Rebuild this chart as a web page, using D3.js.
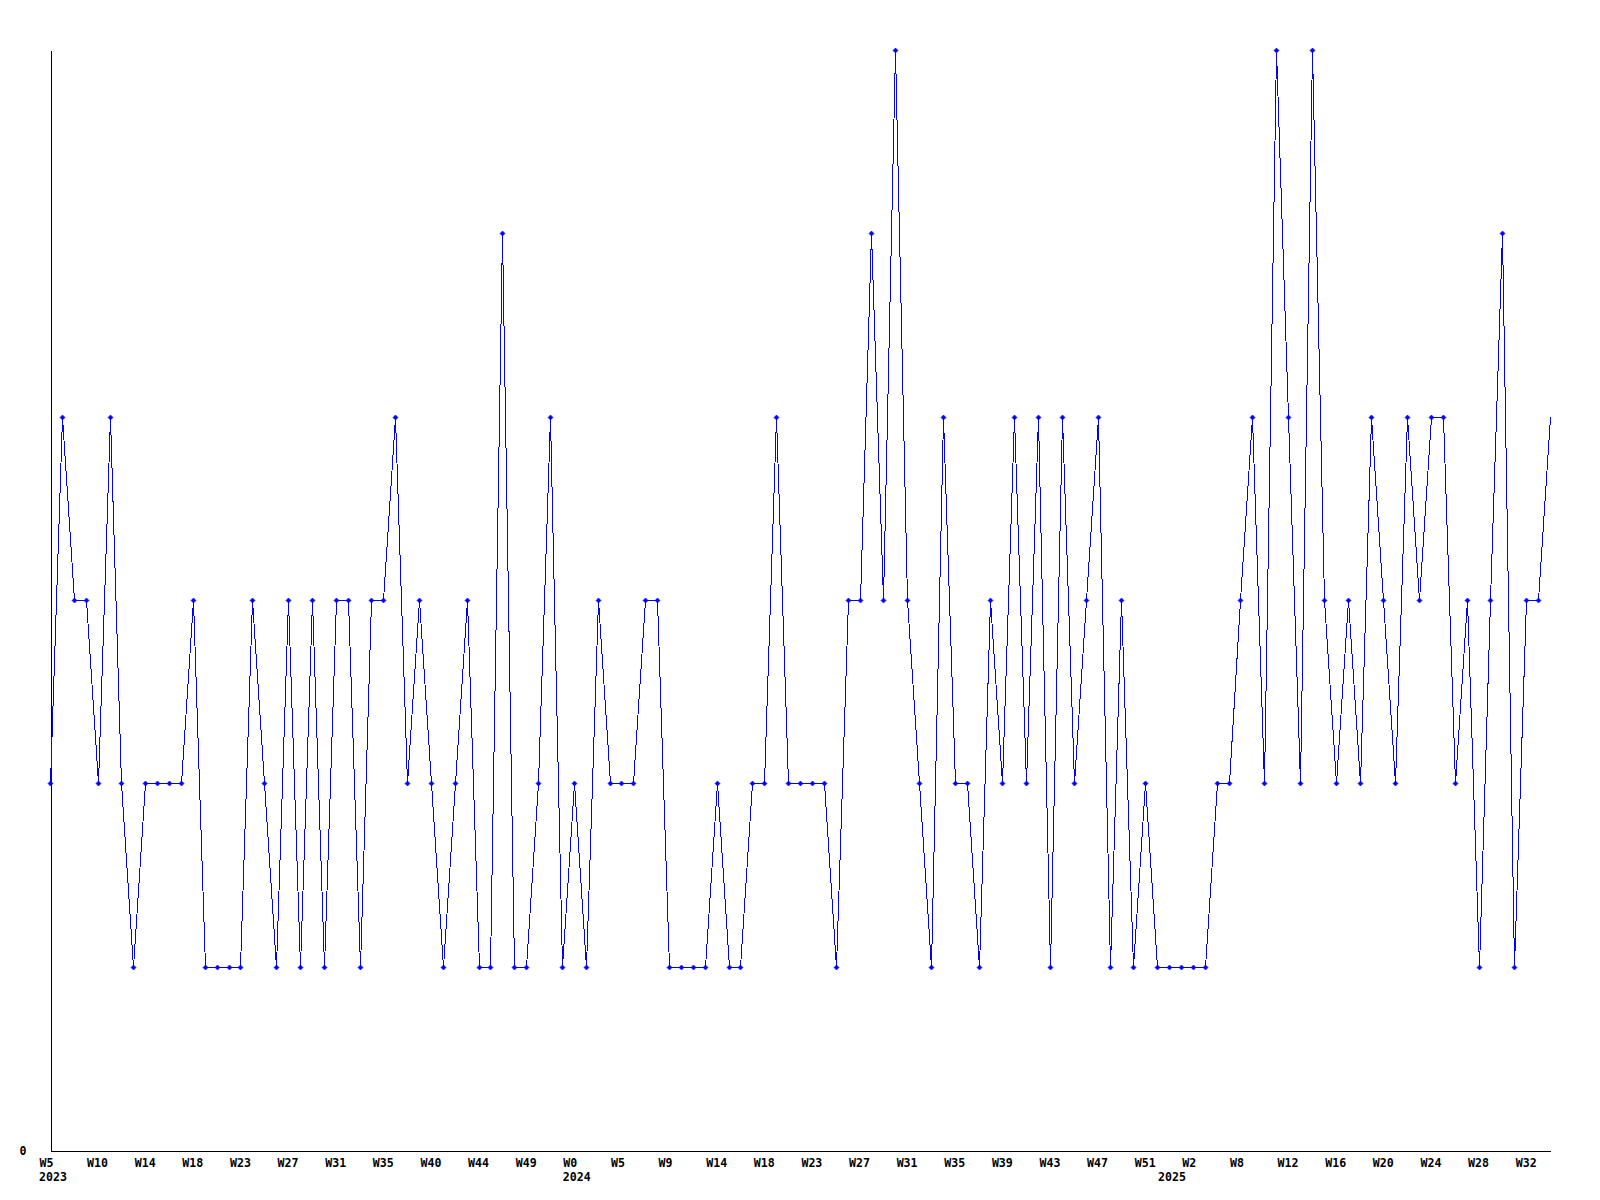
<!DOCTYPE html>
<html>
<head>
<meta charset="utf-8">
<script src="https://cdn.jsdelivr.net/npm/d3@7"></script>
<style>
  html, body { margin: 0; padding: 0; background: #fff; }
  svg { display: block; }
  text { font-family: "DejaVu Sans Mono", "Liberation Mono", monospace; font-weight: bold; font-size: 11.6px; fill: #000; }
</style>
</head>
<body>
<svg id="chart" width="1600" height="1200"></svg>
<script>
// ---- data ----
const values = [
  2,4,3,3,2,4,2,1,2,2,
  2,2,3,1,1,1,1,3,2,1,
  3,1,3,1,3,3,1,3,3,4,
  2,3,2,1,2,3,1,1,5,1,
  1,2,4,1,2,1,3,2,2,2,
  3,3,1,1,1,1,2,1,1,2,
  2,4,2,2,2,2,1,3,3,5,
  3,6,3,2,1,4,2,2,1,3,
  2,4,2,4,1,4,2,3,4,1,
  3,1,2,1,1,1,1,1,2,2,
  3,4,2,6,4,2,6,3,2,3,
  2,4,3,2,4,3,4,4,2,3,
  1,3,5,1,3,3,4
];
const weekLabels = ["W5","W10","W14","W18","W23","W27","W31","W35","W40","W44","W49",
                    "W0","W5","W9","W14","W18","W23","W27","W31","W35","W39","W43","W47","W51",
                    "W2","W8","W12","W16","W20","W24","W28","W32"];
const labelEvery = 4;
const yearLabels = ["2023","2024","2025"];
const yearStartIndex = [0, 44, 94];
const yTickValues = [0];

// ---- layout ----
const plotLeft = 50, plotRight = 1550, plotTop = 50, plotBottom = 1150;
const svg = d3.select("#chart");

const x = d3.scaleLinear().domain([0, values.length - 1]).range([plotLeft, plotRight]);
const y = d3.scaleLinear().domain([0, 6]).range([plotBottom, plotTop]);
const px = i => Math.round(x(i));
const py = v => Math.round(y(v));

// axes
const yAxis = d3.axisLeft(y).tickValues(yTickValues).tickSize(0).tickSizeOuter(0).tickPadding(24).tickFormat(d3.format("d"));
const gy = svg.append("g").attr("transform", `translate(${plotLeft + 0.5},0.5)`).call(yAxis);
gy.select(".domain").attr("stroke", "#000").attr("shape-rendering", "crispEdges");
gy.selectAll("text").attr("font-family", null).attr("font-size", null).attr("dy", "0.32em");

const tickIdx = weekLabels.map((_, k) => k * labelEvery);
const xAxis = d3.axisBottom(x).tickValues(tickIdx).tickSize(0).tickSizeOuter(0).tickPadding(8)
  .tickFormat((d, k) => weekLabels[k]);
const gx = svg.append("g").attr("transform", `translate(0.5,${plotBottom + 0.5})`).call(xAxis);
gx.select(".domain").attr("stroke", "#000").attr("shape-rendering", "crispEdges");
gx.selectAll("text").attr("font-family", null).attr("font-size", null)
  .attr("text-anchor", "start").attr("dx", -11.5);

// year labels
svg.append("g").selectAll("text")
  .data(yearLabels)
  .join("text")
  .attr("x", (d, k) => x(yearStartIndex[k]) - 11)
  .attr("y", plotBottom + 31)
  .text(d => d);

// line
const line = d3.line().x((d, i) => px(i) + 0.5).y(d => py(d) + 0.5);
svg.append("path")
  .datum(values)
  .attr("d", line)
  .attr("fill", "none")
  .attr("stroke", "#0000ff")
  .attr("stroke-width", 1)
  .attr("shape-rendering", "crispEdges");

// markers (last point has no marker in the reference)
const r = 2.5;
svg.append("g").selectAll("path")
  .data(values.slice(0, values.length - 1))
  .join("path")
  .attr("d", (d, i) => {
    const cx = px(i) + 0.5, cy = py(d) + 0.5;
    return `M${cx},${cy - r}L${cx + r},${cy}L${cx},${cy + r}L${cx - r},${cy}Z`;
  })
  .attr("fill", "#0000ff")
  .attr("stroke", "#0000ff")
  .attr("stroke-width", 0.6);
</script>
</body>
</html>
